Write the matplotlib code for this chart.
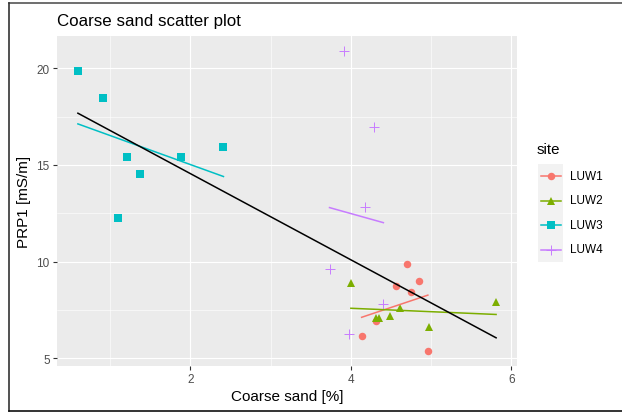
import numpy as np
import matplotlib
matplotlib.use("Agg")
import matplotlib.pyplot as plt
from matplotlib.ticker import MultipleLocator
from matplotlib.lines import Line2D

plt.rcParams['font.family'] = ['Liberation Sans', 'DejaVu Sans']

# === data ===
sites = ['LUW1', 'LUW2', 'LUW3', 'LUW4']
colors = ['#F8766D', '#7CAE00', '#00BFC4', '#C77CFF']
markers = ['o', '^', 's', '+']
msizes = [5.4, 6.2, 5.2, 7.5]

luw1_x = [4.705, 4.843, 4.563, 4.750, 4.313, 4.134, 4.959]
luw1_y = [9.85, 9.01, 8.75, 8.40, 6.90, 6.14, 5.37]
luw2_x = [4.000, 4.313, 4.355, 4.488, 4.613, 4.975, 5.809]
luw2_y = [8.87, 7.06, 7.06, 7.18, 7.58, 6.59, 7.92]
luw3_x = [0.600, 0.918, 1.209, 1.375, 1.100, 1.888, 2.413]
luw3_y = [19.86, 18.48, 15.40, 14.54, 12.26, 15.40, 15.93]
luw4_x = [3.913, 4.284, 4.175, 3.734, 4.405, 3.980]
luw4_y = [20.89, 16.98, 12.81, 9.61, 7.78, 6.24]

xs = [luw1_x, luw2_x, luw3_x, luw4_x]
ys = [luw1_y, luw2_y, luw3_y, luw4_y]

W, H = 622, 414
fig = plt.figure(figsize=(W / 100, H / 100), dpi=100)
ax = fig.add_axes([57 / W, (H - 367) / H, 460 / W, 330 / H])
ax.set_facecolor('#EBEBEB')

# points
for x, y, c, m, s in zip(xs, ys, colors, markers, msizes):
    if m == '+':
        ax.plot(x, y, ls='none', marker=m, ms=s, mew=0.7, color=c, zorder=2)
    else:
        ax.plot(x, y, ls='none', marker=m, ms=s, mew=0, color=c, zorder=2)

# lm fit per site
for x, y, c in zip(xs, ys, colors):
    x = np.array(x); y = np.array(y)
    b, a = np.polyfit(x, y, 1)
    xx = np.array([x.min(), x.max()])
    ax.plot(xx, a + b * xx, color=c, lw=1.1, zorder=3)

# overall lm fit
all_x = np.concatenate([np.array(v) for v in xs])
all_y = np.concatenate([np.array(v) for v in ys])
b, a = np.polyfit(all_x, all_y, 1)
xx = np.array([all_x.min(), all_x.max()])
ax.plot(xx, a + b * xx, color='black', lw=1.1, zorder=4)

ax.margins(0.05)
ax.xaxis.set_major_locator(MultipleLocator(2))
ax.xaxis.set_minor_locator(MultipleLocator(1))
ax.yaxis.set_major_locator(MultipleLocator(5))
ax.yaxis.set_minor_locator(MultipleLocator(2.5))
ax.grid(which='major', color='white', lw=0.8)
ax.grid(which='minor', color='white', lw=0.4)
ax.set_axisbelow(True)
for sp in ax.spines.values():
    sp.set_visible(False)
ax.tick_params(which='major', length=2.7, width=0.8, color='#333333',
               labelcolor='#4D4D4D', labelsize=8.5, pad=2.5)
ax.tick_params(which='minor', length=0)

ax.set_xlabel('Coarse sand [%]', fontsize=11, labelpad=3)
ax.set_ylabel('PRP1 [mS/m]', fontsize=11, labelpad=4)
ax.set_title('Coarse sand scatter plot', loc='left', fontsize=12.2, pad=8)

# legend
fig.text(537 / W, 1 - 150 / H, 'site', fontsize=10.8, va='center', ha='left')
lax = fig.add_axes([538 / W, (H - 263) / H, 25 / W, 98 / H])
lax.set_facecolor('#F2F2F2')
lax.set_xlim(0, 1)
lax.set_ylim(len(sites), 0)
lax.set_xticks([]); lax.set_yticks([])
for sp in lax.spines.values():
    sp.set_visible(False)
for i, (name, c, m, s) in enumerate(zip(sites, colors, markers, msizes)):
    yc = i + 0.5
    lax.plot([0.1, 0.9], [yc, yc], color=c, lw=1.1)
    if m == '+':
        lax.plot([0.5], [yc], marker=m, ms=s, mew=0.7, color=c)
    else:
        lax.plot([0.5], [yc], marker=m, ms=s, mew=0, color=c)
    fig.text(570 / W, 1 - (164.75 + 24.5 * yc) / H, name, fontsize=8.5,
             va='center', ha='left')

# screenshot frame
fig.add_artist(Line2D([8.5 / W, 1], [1 - 4 / H, 1 - 4 / H], color='#555555', lw=1.2))
fig.add_artist(Line2D([8.5 / W, 8.5 / W], [2 / H, 1 - 4 / H], color='#333333', lw=1.2))
fig.add_artist(Line2D([8.5 / W, 1], [2 / H, 2 / H], color='#111111', lw=1.2))

fig.savefig('out.png', dpi=100)
